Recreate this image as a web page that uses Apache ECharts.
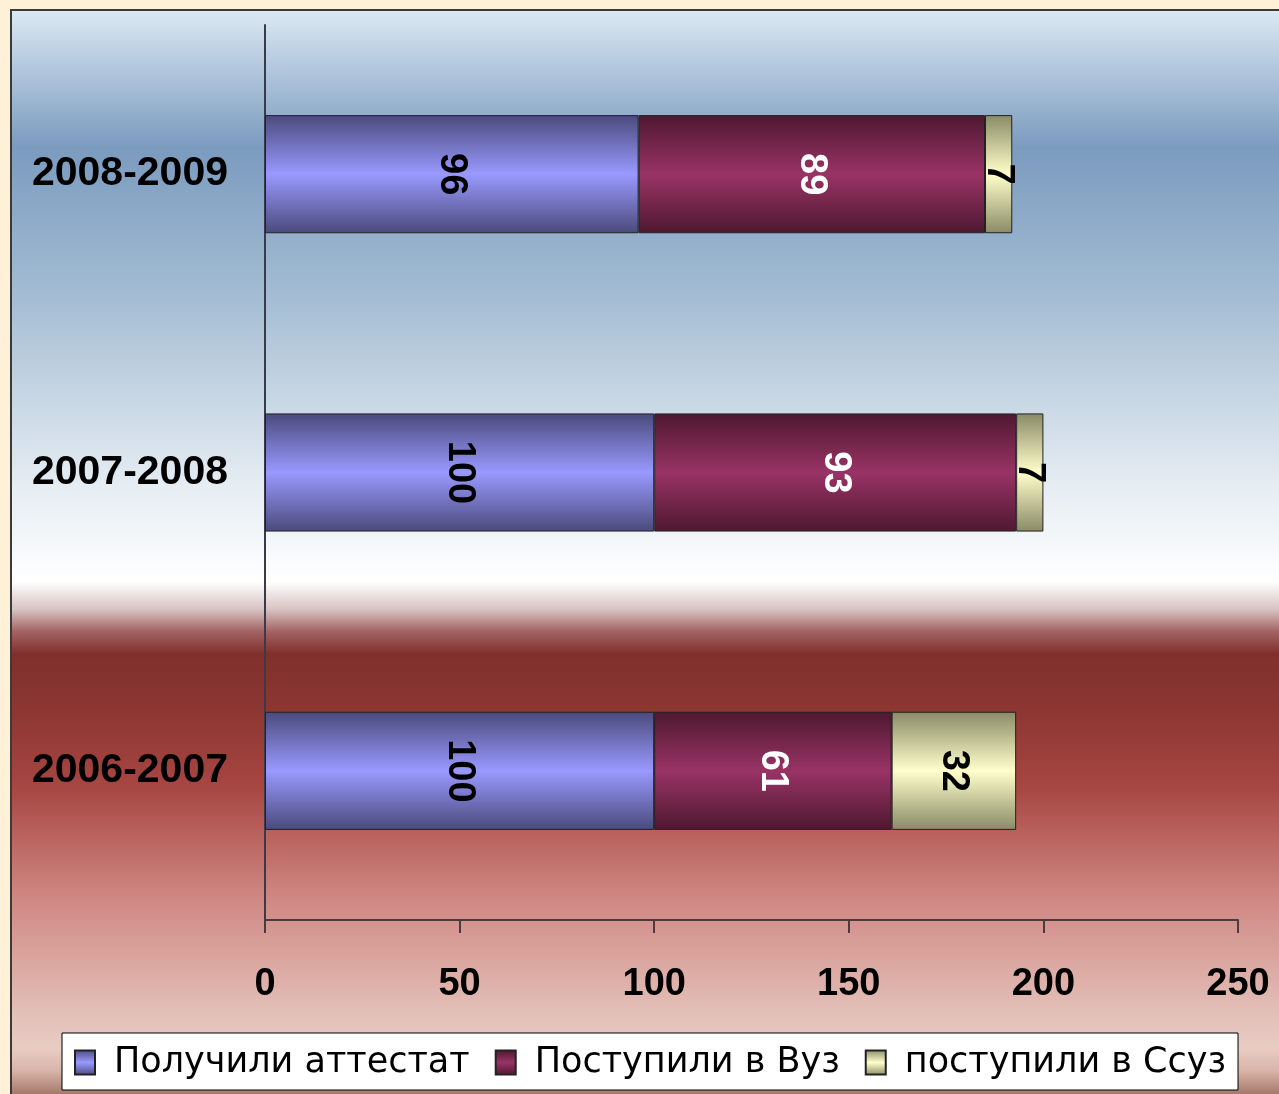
<!DOCTYPE html>
<html>
<head>
<meta charset="utf-8">
<script src="https://cdn.jsdelivr.net/npm/echarts@6/dist/echarts.min.js"></script>
<style>
html,body{margin:0;padding:0;background:#fff0d8;}
#chart{position:absolute;left:0;top:0;width:1279px;height:1094px;}
</style>
</head>
<body>
<div id="chart"></div>
<script>
const categories = ['2006-2007', '2007-2008', '2008-2009'];
const seriesNames = ['Получили аттестат', 'Поступили в Вуз', 'поступили в Ссуз'];
const attestat = [100, 100, 96];
const vuz = [61, 93, 89];
const ssuz = [32, 7, 7];
const xTicks = [0, 50, 100, 150, 200, 250];

function grad(edge, mid) {
  return new echarts.graphic.LinearGradient(0, 0, 0, 1, [
    {offset: 0, color: edge},
    {offset: 0.5, color: mid},
    {offset: 1, color: edge}
  ]);
}

const chart = echarts.init(document.getElementById('chart'), null, {renderer: 'canvas'});
const font = '"Liberation Sans", Arial, sans-serif';

function barSeries(name, data, edge, mid, labelColor) {
  return {
    name: name,
    type: 'bar',
    stack: 'total',
    barWidth: '39.6%',
    data: data,
    itemStyle: {color: grad(edge, mid), borderColor: '#222', borderWidth: 1},
    label: {
      show: true, position: 'inside', rotate: -90,
      fontFamily: font, fontWeight: 'bold', fontSize: 38, color: labelColor
    }
  };
}

chart.setOption({
  animation: false,
  backgroundColor: 'transparent',
  graphic: [{
    type: 'rect', z: -10, silent: true,
    shape: {x: 11, y: 10, width: 1300, height: 1110},
    style: {
      stroke: '#3a3a3a', lineWidth: 2,
      fill: new echarts.graphic.LinearGradient(0, 0, 0, 1, [
        {offset: 0, color: '#dce9f3'},
        {offset: 0.125, color: '#7b9bbf'},
        {offset: 0.26, color: '#a4bdd3'},
        {offset: 0.43, color: '#e6edf3'},
        {offset: 0.515, color: '#ffffff'},
        {offset: 0.54, color: '#d8c2c2'},
        {offset: 0.56, color: '#a26262'},
        {offset: 0.58, color: '#80302c'},
        {offset: 0.63, color: '#8c3632'},
        {offset: 0.7, color: '#a84642'},
        {offset: 0.8, color: '#d08883'},
        {offset: 0.9, color: '#e2beb6'},
        {offset: 0.935, color: '#e8ccc4'},
        {offset: 0.955, color: '#d8b4a8'},
        {offset: 1, color: '#6a3426'}
      ])
    }
  }],
  grid: {left: 265, right: 41, top: 25, bottom: 174, containLabel: false},
  legend: {
    left: 62, top: 1033,
    backgroundColor: '#ffffff', borderColor: '#000', borderWidth: 1,
    padding: [12, 12, 10, 12],
    icon: 'rect',
    itemWidth: 20, itemHeight: 24, itemGap: 25,
    data: seriesNames,
    textStyle: {fontFamily: '"DejaVu Sans", sans-serif', fontSize: 35, color: '#000', padding: [0, 0, 0, 14]}
  },
  xAxis: {
    type: 'value', min: 0, max: 250, interval: 50,
    axisLine: {show: true, lineStyle: {color: '#4a3c3c', width: 2}},
    axisTick: {show: true, length: 13, lineStyle: {color: '#4a3c3c', width: 2}},
    splitLine: {show: false},
    axisLabel: {
      margin: 46, fontFamily: font, fontWeight: 'bold', fontSize: 38, color: '#000',
      formatter: function (v) { return xTicks.indexOf(v) >= 0 ? String(v) : ''; }
    }
  },
  yAxis: {
    type: 'category', data: categories,
    axisLine: {show: true, lineStyle: {color: '#3a3a4a', width: 2}},
    axisTick: {show: false},
    axisLabel: {margin: 37, fontFamily: font, fontWeight: 'bold', fontSize: 41, color: '#000'}
  },
  series: [
    barSeries(seriesNames[0], attestat, '#4a4a7c', '#9999ff', '#000'),
    barSeries(seriesNames[1], vuz, '#4e1830', '#993366', '#fff'),
    barSeries(seriesNames[2], ssuz, '#8a8a66', '#ffffcc', '#000')
  ]
});
</script>
</body>
</html>
